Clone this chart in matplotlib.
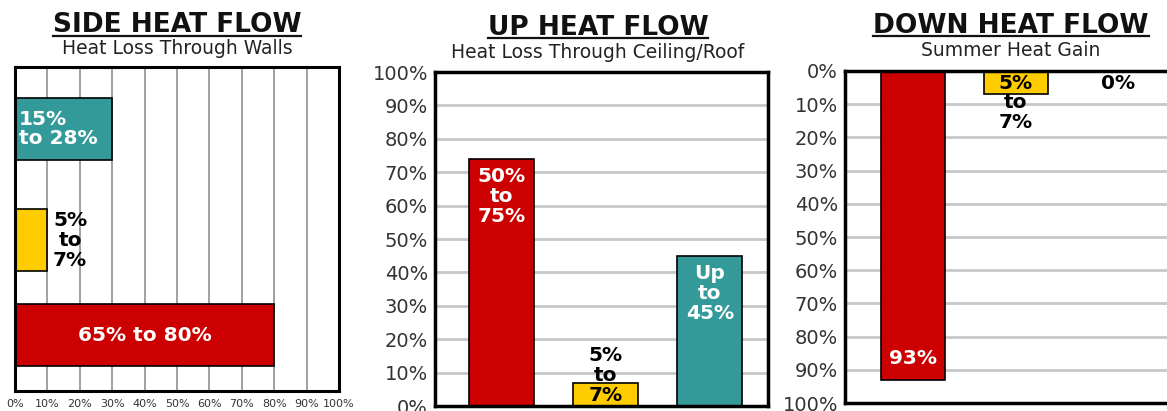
import matplotlib as mpl
mpl.use('Agg')
import matplotlib.pyplot as plt
from matplotlib.lines import Line2D

# bar order: red, yellow, teal
bar_colors = ['#cc0000', '#ffcc00', '#339999']

side_values = [80, 10, 30]
side_labels = ['65% to 80%', '5%\nto\n7%', '15%\nto 28%']

up_values = [74, 7, 45]
up_labels = ['50%\nto\n75%', '5%\nto\n7%', 'Up\nto\n45%']

down_values = [93, 7, 0]
down_labels = ['93%', '5%\nto\n7%', '0%']

pct_ticks = list(range(0, 101, 10))
pct_tick_labels = ['%d%%' % t for t in pct_ticks]

titles = ['SIDE HEAT FLOW', 'UP HEAT FLOW', 'DOWN HEAT FLOW']
subtitles = ['Heat Loss Through Walls', 'Heat Loss Through Ceiling/Roof', 'Summer Heat Gain']

W, H = 1167, 411
fig = plt.figure(figsize=(W / 100, H / 100), dpi=100)
fig.patch.set_facecolor('white')


def px_box(x0, y0, x1, y1):
    """figure-fraction rect from pixel corners (top-left origin)"""
    return [x0 / W, 1 - y1 / H, (x1 - x0) / W, (y1 - y0) / H]


def style_spines(ax, lw):
    for s in ax.spines.values():
        s.set_linewidth(lw)
        s.set_color('black')
        s.set_zorder(5)


label_kw = dict(fontsize=14.5, fontweight='bold', linespacing=1.05)

# ---- side heat flow (horizontal bars) ----
ax1 = fig.add_axes(px_box(15, 67, 339, 391))
side_pos = [0, 0.92, 2]  # rows are not evenly spaced in the original
ax1.barh(side_pos, side_values, height=0.6, color=bar_colors, edgecolor='black', linewidth=1.2, zorder=3)
ax1.set_xlim(0, 100)
ax1.set_ylim(-0.54, 2.6)
ax1.set_xticks(pct_ticks)
ax1.set_xticklabels(pct_tick_labels, fontsize=8, color='#333333')
ax1.tick_params(axis='x', length=0, pad=6)
ax1.set_yticks([])
ax1.grid(axis='x', color='#999999', linewidth=1.3, zorder=0)
style_spines(ax1, 2.2)
ax1.text(side_values[0] / 2, side_pos[0], side_labels[0], color='white', ha='center', va='center', **label_kw)
ax1.text(17, side_pos[1], side_labels[1], color='black', ha='center', va='center', multialignment='center', **label_kw)
ax1.text(1.2, side_pos[2], side_labels[2], color='white', ha='left', va='center', multialignment='left', **label_kw)

# ---- up heat flow ----
pos = [0, 1, 2]
ax2 = fig.add_axes(px_box(435, 72, 768, 406))
ax2.bar(pos, up_values, width=0.62, color=bar_colors, edgecolor='black', linewidth=1.2, zorder=3)
ax2.set_xlim(-0.64, 2.56)
ax2.set_ylim(0, 100)
ax2.set_yticks(pct_ticks)
ax2.set_yticklabels(pct_tick_labels, fontsize=14, color='#333333')
ax2.tick_params(axis='y', length=0, pad=5)
ax2.set_xticks([])
ax2.grid(axis='y', color='#c8c8c8', linewidth=2, zorder=0)
style_spines(ax2, 2.5)
ax2.text(0, up_values[0] - 2.5, up_labels[0], color='white', ha='center', va='top', multialignment='center', **label_kw)
ax2.text(1, 0.3, up_labels[1], color='black', ha='center', va='bottom', multialignment='center', **label_kw)
ax2.text(2, up_values[2] - 2.5, up_labels[2], color='white', ha='center', va='top', multialignment='center', **label_kw)

# ---- down heat flow (inverted) ----
ax3 = fig.add_axes(px_box(845, 71, 1176, 403))
ax3.bar(pos, down_values, width=0.62, color=bar_colors, edgecolor='black', linewidth=1.2, zorder=3)
ax3.set_xlim(-0.66, 2.56)
ax3.set_ylim(100, 0)
ax3.set_yticks(pct_ticks)
ax3.set_yticklabels(pct_tick_labels, fontsize=14, color='#333333')
ax3.tick_params(axis='y', length=0, pad=5)
ax3.set_xticks([])
ax3.grid(axis='y', color='#c8c8c8', linewidth=2, zorder=0)
style_spines(ax3, 2.5)
ax3.text(0, down_values[0] - 6.5, down_labels[0], color='white', ha='center', va='center', **label_kw)
ax3.text(1, 0.8, down_labels[1], color='black', ha='center', va='top', multialignment='center', **label_kw)
ax3.text(2, 3.9, down_labels[2], color='black', ha='center', va='center', **label_kw)

# ---- titles with underline ----
title_pos = [(177, 32, 48), (598, 35, 53), (1011, 33, 51)]
title_objs = []
for (cx, ty, sy), t, s in zip(title_pos, titles, subtitles):
    tt = fig.text(cx / W, 1 - ty / H, t, ha='center', va='baseline', fontsize=19, fontweight='bold', color='#111111')
    fig.text(cx / W, 1 - sy / H, s, ha='center', va='center', fontsize=13.5, color='#222222')
    title_objs.append(tt)

fig.canvas.draw()
renderer = fig.canvas.get_renderer()
for tt, (cx, ty, sy) in zip(title_objs, title_pos):
    bb = tt.get_window_extent(renderer)
    yl = 1 - (ty + 3.5) / H
    fig.add_artist(Line2D([bb.x0 / W, bb.x1 / W], [yl, yl], color='#111111', linewidth=1.6,
                          transform=fig.transFigure))

fig.savefig('out.png', dpi=100, facecolor='white')
